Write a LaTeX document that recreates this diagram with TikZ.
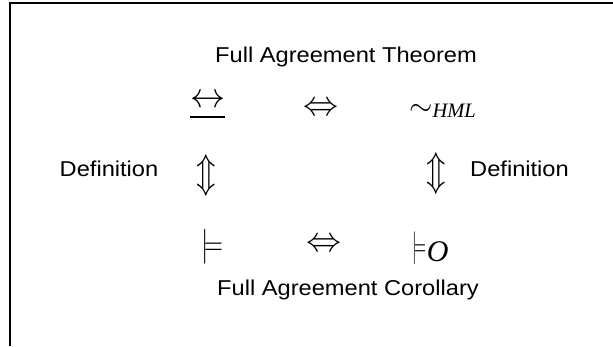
\documentclass[tikz,border=0pt]{standalone}
\usepackage{fix-cm}
\usepackage{graphicx}
\usepackage{fontspec}
\setmainfont{Liberation Sans}
\newfontfamily\lblfont{Liberation Sans}[FakeStretch=1.1]
\newfontfamily\timesfont{Liberation Serif}
\begin{document}
\begin{tikzpicture}[x=1pt,y=-1pt,
  lbl/.style={inner sep=0pt,font=\lblfont\fontsize{21.5}{26}\selectfont},
  sym/.style={inner sep=0pt,font=\fontsize{35}{40}\selectfont},
  vsym/.style={inner sep=0pt,font=\fontsize{40}{46}\selectfont}]
\useasboundingbox (0,0) rectangle (613,346);
\draw[line width=1.3pt] (10,346) -- (10,3) -- (613,3);
\node[lbl] (thm) at (346,57) {Full Agreement Theorem};
\node[lbl] (cor) at (348,290) {Full Agreement Corollary};
\node[lbl] (defl) at (109,169) {Definition};
\node[lbl] (defr) at (519.5,169) {Definition};
% top row
\node[sym] (bisim) at (207.5,101) {$\leftrightarrow$};
\draw[line width=1.6pt] (bisim.west |- 0,117) -- (bisim.east |- 0,117);
\node[sym] (iffT) at (320.5,109.5) {$\Leftrightarrow$};
\node[inner sep=0pt,anchor=west] (hml) at (409,111) {\fontsize{30}{34}\selectfont$\sim$\kern0pt\raisebox{-2pt}{\timesfont\itshape\fontsize{20.5}{24}\selectfont HML}};
% vertical
\node[vsym] (udl) at (206,175) {\scalebox{0.8}[1]{$\Updownarrow$}};
\node[vsym] (udr) at (436,173) {\scalebox{0.8}[1]{$\Updownarrow$}};
% bottom row
\node[sym] (mod) at (212,247) {\scalebox{0.75}[1]{$\models$}};
\node[sym] (iffB) at (323.5,245) {$\Leftrightarrow$};
\node[inner sep=0pt,anchor=west] (modO) at (412,248) {\fontsize{33}{38}\selectfont\scalebox{0.5}[1]{$\models$}\kern1pt\raisebox{-5pt}{\timesfont\itshape\fontsize{30}{34}\selectfont O}};
\end{tikzpicture}
\end{document}
